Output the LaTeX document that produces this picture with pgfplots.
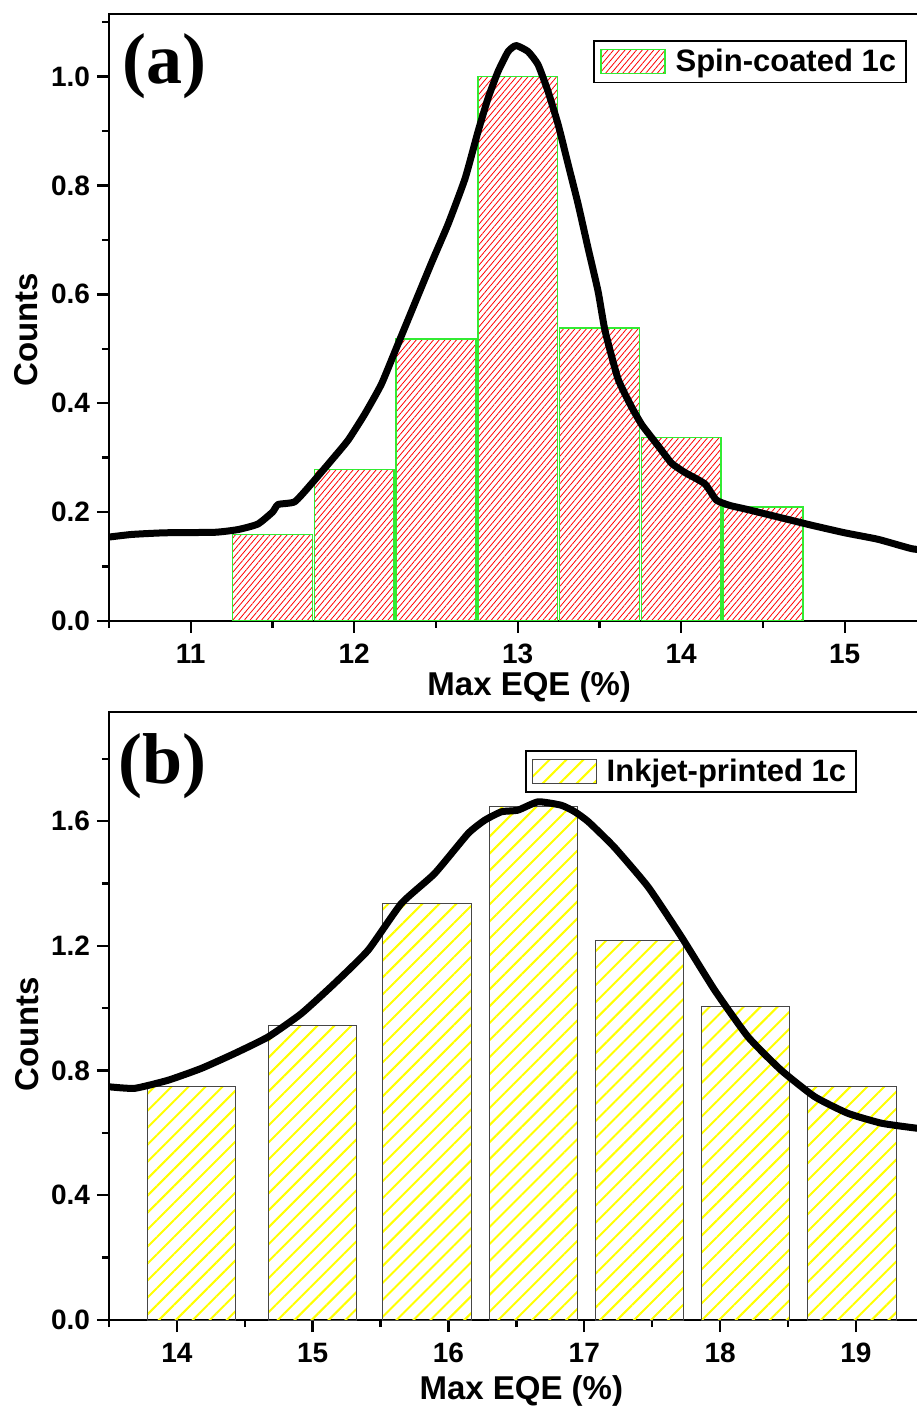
\documentclass[border=0pt]{standalone}
\usepackage{fontspec}
\setmainfont{Liberation Sans}
\newfontfamily\panelfont{Liberation Serif}
\usepackage{pgfplots}
\pgfplotsset{compat=1.18}
\usetikzlibrary{patterns.meta}

\definecolor{bargreen}{RGB}{50,235,50}
\definecolor{bargray}{RGB}{70,70,70}

\pgfplotsset{
  panel/.style={
    scale only axis,
    anchor=south west,
    axis line style={line width=1.4pt},
    tick style={black, line width=1.2pt},
    major tick length=6pt,
    minor tick length=3.5pt,
    tick align=outside,
    xtick pos=bottom, ytick pos=left,
    /pgf/number format/assume math mode=true,
    tick label style={font=\bfseries\fontsize{14}{14}\selectfont},
    xticklabel style={yshift=-2pt},
    label style={font=\bfseries\fontsize{16.5}{16.5}\selectfont},
    yticklabel style={/pgf/number format/.cd, fixed, fixed zerofill, precision=1},
    legend style={draw=black, line width=0.8pt,
      font=\bfseries\fontsize{15.5}{15.5}\selectfont,
      inner xsep=3pt, inner ysep=2pt},
    legend cell align=left,
  },
  boxlegend/.style={legend image code/.code={%
    \draw[##1] (0pt,-6pt) rectangle (32pt,6pt);
    \path (35pt,0pt);}},
  fitline/.style={black, line width=3.5pt, line join=round, line cap=round, smooth, tension=0.3, forget plot},
}

\begin{document}
\begin{tikzpicture}
\useasboundingbox (-54.5pt,-395pt) rectangle (403.5pt,310.5pt);

% (a) spin-coated
\begin{axis}[panel,
  at={(0pt,0pt)},
  width=408.75pt, height=303.5pt,
  xmin=10.5, xmax=15.5, ymin=0, ymax=1.115,
  xtick={11,12,13,14,15},
  minor xtick={10.5,11.5,12.5,13.5,14.5,15.5},
  ytick={0,0.2,0.4,0.6,0.8,1.0},
  minor ytick={0.1,0.3,0.5,0.7,0.9,1.1},
  xlabel={Max EQE (\%)}, ylabel={Counts},
  xlabel style={at={(axis description cs:0.514,-0.109)}, anchor=center},
  ylabel style={at={(axis description cs:-0.101,0.48)}, anchor=center},
  legend style={at={(rel axis cs:0.976,0.957)}, anchor=north east},
]
\addplot[ybar, bar width=0.487, draw=bargreen, line width=0.8pt,
  pattern={Lines[angle=50,distance=2.2pt,line width=0.4pt]}, pattern color=red,
  boxlegend]
  table {
11.5 0.159
12.0 0.278
12.5 0.518
13.0 1.000
13.5 0.538
14.0 0.337
14.5 0.209
};
\addlegendentry{Spin-coated 1c}
\addplot[fitline] table {
10.495 0.154
10.64 0.159
10.84 0.162
11.15 0.163
11.29 0.168
11.41 0.178
11.50 0.200
11.534 0.214
11.636 0.219
11.738 0.252
11.86 0.295
11.962 0.332
12.064 0.380
12.166 0.435
12.268 0.509
12.470 0.656
12.574 0.729
12.678 0.813
12.757 0.899
12.818 0.960
12.879 1.009
12.941 1.046
12.990 1.057
13.063 1.046
13.124 1.022
13.185 0.973
13.247 0.912
13.308 0.839
13.369 0.766
13.430 0.685
13.491 0.606
13.534 0.533
13.613 0.445
13.693 0.395
13.760 0.360
13.858 0.322
13.94 0.290
14.021 0.273
14.144 0.252
14.215 0.222
14.30 0.212
14.388 0.206
14.592 0.191
14.796 0.176
15.0 0.162
15.204 0.150
15.407 0.133
15.5 0.130
};
\node[anchor=base west, inner sep=0pt, font=\panelfont\bfseries\fontsize{36}{36}\selectfont]
  at (rel axis cs:0.0166,0.885) {(a)};
\end{axis}

% (b) inkjet-printed
\begin{axis}[panel,
  at={(0pt,-349.5pt)},
  width=407.4pt, height=304pt,
  xmin=13.5, xmax=19.5, ymin=0, ymax=1.95,
  xtick={14,15,16,17,18,19},
  minor xtick={13.5,14.5,15.5,16.5,17.5,18.5,19.5},
  ytick={0,0.4,0.8,1.2,1.6},
  minor ytick={0.2,0.6,1.0,1.4,1.8},
  xlabel={Max EQE (\%)}, ylabel={Counts},
  xlabel style={at={(axis description cs:0.506,-0.117)}, anchor=center},
  ylabel style={at={(axis description cs:-0.101,0.47)}, anchor=center},
  legend style={at={(rel axis cs:0.918,0.9375)}, anchor=north east},
]
\addplot[ybar, bar width=0.65, draw=bargray, line width=0.5pt,
  pattern={Lines[angle=45,distance=6pt,line width=1pt]}, pattern color=yellow,
  boxlegend]
  table {
14.109 0.748
14.996 0.946
15.841 1.336
16.625 1.646
17.408 1.218
18.188 1.007
18.971 0.748
};
\addlegendentry{Inkjet-printed 1c}
\addplot[fitline] table {
13.50 0.748
13.689 0.743
13.935 0.769
14.18 0.807
14.426 0.855
14.672 0.908
14.917 0.983
15.162 1.080
15.408 1.186
15.653 1.336
15.898 1.432
16.144 1.560
16.267 1.603
16.39 1.630
16.51 1.635
16.66 1.662
16.83 1.651
16.93 1.630
17.03 1.598
17.22 1.517
17.47 1.389
17.715 1.229
17.96 1.058
18.206 0.908
18.45 0.801
18.697 0.716
18.94 0.663
19.19 0.631
19.45 0.615
19.5 0.613
};
\node[anchor=base west, inner sep=0pt, font=\panelfont\bfseries\fontsize{36}{36}\selectfont]
  at (rel axis cs:0.0115,0.883) {(b)};
\end{axis}
\end{tikzpicture}
\end{document}
